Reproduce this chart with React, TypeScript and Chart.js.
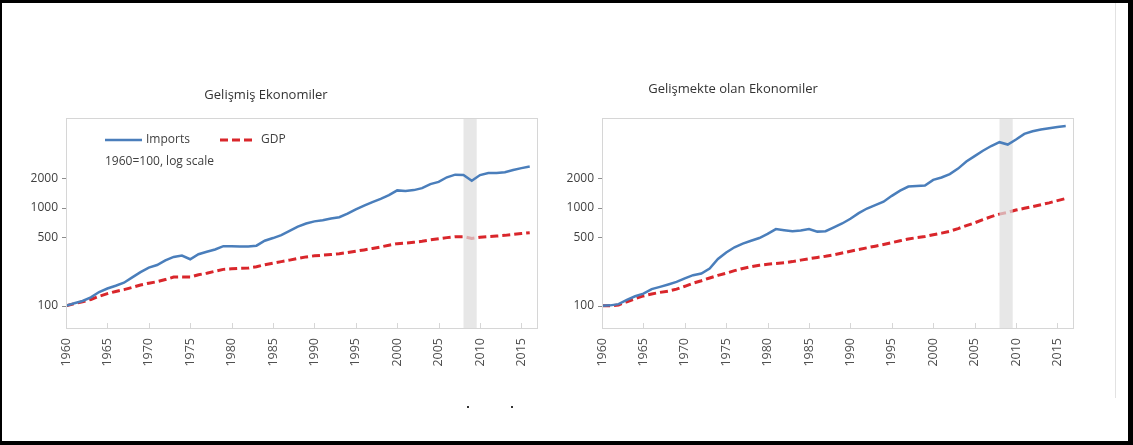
import React, { useEffect, useRef } from "react";
import { Chart, registerables } from "chart.js";

Chart.register(...registerables);

// ---- DATA ----
const years = [
  1960, 1961, 1962, 1963, 1964, 1965, 1966, 1967, 1968, 1969,
  1970, 1971, 1972, 1973, 1974, 1975, 1976, 1977, 1978, 1979,
  1980, 1981, 1982, 1983, 1984, 1985, 1986, 1987, 1988, 1989,
  1990, 1991, 1992, 1993, 1994, 1995, 1996, 1997, 1998, 1999,
  2000, 2001, 2002, 2003, 2004, 2005, 2006, 2007, 2008, 2009,
  2010, 2011, 2012, 2013, 2014, 2015, 2016,
];

const advancedImports = [
  100, 106, 112, 122, 138, 150, 160, 172, 195, 220,
  245, 260, 290, 315, 325, 298, 335, 355, 375, 405,
  405, 402, 403, 410, 460, 490, 525, 580, 640, 690,
  725, 745, 775, 800, 870, 960, 1050, 1140, 1230, 1340,
  1500, 1480, 1510, 1580, 1740, 1830, 2040, 2170, 2150, 1880,
  2150, 2260, 2250, 2300, 2420, 2530, 2630,
];

const advancedGDP = [
  100, 105, 110, 116, 125, 133, 140, 146, 154, 163,
  170, 176, 185, 196, 197, 196, 207, 215, 225, 235,
  238, 241, 242, 250, 262, 272, 282, 292, 304, 315,
  323, 328, 333, 339, 349, 360, 371, 384, 398, 414,
  430, 436, 444, 454, 470, 482, 495, 505, 506, 486,
  500, 508, 514, 522, 533, 545, 555,
];

const developingImports = [
  100, 101, 104, 115, 125, 133, 148, 156, 165, 175,
  190, 205, 213, 240, 300, 350, 395, 430, 460, 490,
  540, 605, 590, 575, 585, 605, 570, 575, 630, 690,
  770, 880, 980, 1060, 1150, 1320, 1490, 1640, 1660, 1680,
  1920, 2030, 2200, 2500, 2950, 3350, 3800, 4250, 4650, 4400,
  4950, 5650, 6000, 6250, 6450, 6650, 6800,
];

const developingGDP = [
  100, 100, 102, 110, 118, 126, 132, 137, 141, 148,
  158, 170, 180, 192, 204, 215, 228, 240, 250, 259,
  265, 270, 274, 282, 292, 302, 311, 320, 331, 345,
  360, 375, 390, 405, 422, 440, 460, 480, 495, 508,
  530, 550, 575, 612, 655, 700, 755, 810, 860, 895,
  945, 985, 1025, 1070, 1120, 1180, 1240,
];

const yTickValues = [100, 500, 1000, 2000];
const xTickYears = [1960, 1965, 1970, 1975, 1980, 1985, 1990, 1995, 2000, 2005, 2010, 2015];
const recessionBand = [2008, 2009.6];

const titleLeft = "Gelişmiş Ekonomiler";
const titleRight = "Gelişmekte olan Ekonomiler";
const legendImports = "Imports";
const legendGDP = "GDP";
const legendNote = "1960=100, log scale";

// ---- STYLE ----
const FONT = "'Open Sans', 'DejaVu Sans', sans-serif";
const BLUE = "#4a7ebb";
const RED = "#d9262b";
const TEXT = "#404040";
const BOX = "#d6d6d6";
const CW = 530;
const CH = 445;

type PanelProps = {
  left: number;
  title: string;
  titleX: number;
  titleY: number;
  imports: number[];
  gdp: number[];
  legend: boolean;
};

function Panel(props: PanelProps) {
  const ref = useRef<HTMLCanvasElement | null>(null);

  useEffect(() => {
    const canvas = ref.current;
    if (!canvas) return;

    const plugin = {
      id: "panelDecor",
      afterDatasetDraw(chart: any, args: any) {
        if (args.index !== 1) return;
        const { ctx, chartArea, scales } = chart;
        const x0 = scales.x.getPixelForValue(recessionBand[0]);
        const x1 = scales.x.getPixelForValue(recessionBand[1]);
        ctx.save();
        ctx.fillStyle = "rgba(222,222,222,0.72)";
        ctx.fillRect(x0, chartArea.top + 1, x1 - x0, chartArea.bottom - chartArea.top - 1);
        ctx.restore();
      },
      afterDraw(chart: any) {
        const { ctx, chartArea, scales } = chart;
        const { left, top, right, bottom } = chartArea;
        ctx.save();
        // plot box
        ctx.strokeStyle = BOX;
        ctx.lineWidth = 1;
        ctx.strokeRect(left + 0.5, top + 0.5, right - left - 1, bottom - top - 1);
        // y tick marks (outside)
        ctx.strokeStyle = "#8c8c8c";
        yTickValues.forEach((v) => {
          const y = Math.round(scales.y.getPixelForValue(v)) + 0.5;
          ctx.beginPath();
          ctx.moveTo(left - 4, y);
          ctx.lineTo(left, y);
          ctx.stroke();
        });
        // x tick marks (inside)
        ctx.strokeStyle = BOX;
        xTickYears.forEach((yr) => {
          const x = Math.round(scales.x.getPixelForValue(yr)) + 0.5;
          ctx.beginPath();
          ctx.moveTo(x, bottom - 1);
          ctx.lineTo(x, bottom - 6);
          ctx.stroke();
        });
        // title
        ctx.fillStyle = "#333333";
        ctx.font = `13px ${FONT}`;
        ctx.textAlign = "center";
        ctx.textBaseline = "middle";
        ctx.fillText(props.title, props.titleX, props.titleY);
        // legend
        if (props.legend) {
          ctx.font = `12px ${FONT}`;
          ctx.textAlign = "left";
          ctx.fillStyle = TEXT;
          ctx.lineWidth = 2.5;
          ctx.strokeStyle = BLUE;
          ctx.beginPath();
          ctx.moveTo(75, 140);
          ctx.lineTo(112, 140);
          ctx.stroke();
          ctx.fillText(legendImports, 116, 140);
          ctx.lineWidth = 3;
          ctx.strokeStyle = RED;
          ctx.setLineDash([8, 4]);
          ctx.beginPath();
          ctx.moveTo(190, 140);
          ctx.lineTo(224, 140);
          ctx.stroke();
          ctx.setLineDash([]);
          ctx.fillText(legendGDP, 231, 140);
          ctx.fillText(legendNote, 75, 162);
        }
        ctx.restore();
      },
    };

    const chart = new Chart(canvas, {
      type: "line",
      data: {
        datasets: [
          {
            label: legendImports,
            data: years.map((yr, i) => ({ x: yr, y: props.imports[i] })),
            borderColor: BLUE,
            borderWidth: 2.5,
            pointRadius: 0,
            tension: 0,
            fill: false,
          },
          {
            label: legendGDP,
            data: years.map((yr, i) => ({ x: yr, y: props.gdp[i] })),
            borderColor: RED,
            borderWidth: 3,
            borderDash: [8, 4],
            pointRadius: 0,
            tension: 0,
            fill: false,
          },
        ],
      },
      options: {
        responsive: false,
        animation: false,
        devicePixelRatio: 1,
        layout: { padding: { left: 0, right: 22, top: 118, bottom: 56 } },
        plugins: {
          legend: { display: false },
          tooltip: { enabled: false },
          title: { display: false },
        },
        scales: {
          x: {
            type: "linear",
            min: 1960,
            max: 2017,
            grid: { display: false, drawTicks: false },
            border: { display: false },
            afterBuildTicks: (scale: any) => {
              scale.ticks = xTickYears.map((v) => ({ value: v }));
            },
            afterFit: (scale: any) => {
              scale.height = 60;
            },
            ticks: {
              autoSkip: false,
              minRotation: 90,
              maxRotation: 90,
              padding: 9,
              color: "#505050",
              font: { family: FONT, size: 12.5 },
              callback: (v: any) => String(v),
            },
          },
          y: {
            type: "logarithmic",
            min: 58,
            max: 8200,
            grid: { display: false, drawTicks: false },
            border: { display: false },
            afterBuildTicks: (scale: any) => {
              scale.ticks = yTickValues.map((v) => ({ value: v }));
            },
            afterFit: (scale: any) => {
              scale.width = 36;
            },
            ticks: {
              autoSkip: false,
              padding: 8,
              color: TEXT,
              font: { family: FONT, size: 12 },
              callback: (v: any) => String(v),
            },
          },
        },
      },
      plugins: [plugin],
    } as any);

    return () => chart.destroy();
  }, []);

  return (
    <canvas
      ref={ref}
      width={CW}
      height={CH}
      style={{ position: "absolute", left: props.left, top: 0, width: CW, height: CH }}
    />
  );
}

export default function App() {
  return (
    <div
      style={{
        position: "fixed",
        left: 0,
        top: 0,
        width: 1133,
        height: 445,
        background: "#ffffff",
        overflow: "hidden",
      }}
    >
      <Panel
        left={30}
        title={titleLeft}
        titleX={236}
        titleY={95}
        imports={advancedImports}
        gdp={advancedGDP}
        legend={true}
      />
      <Panel
        left={566}
        title={titleRight}
        titleX={167}
        titleY={89}
        imports={developingImports}
        gdp={developingGDP}
        legend={false}
      />
      {/* thin grey line near right edge */}
      <div style={{ position: "absolute", left: 1115, top: 0, width: 1, height: 398, background: "#e2e2e2" }} />
      {/* stray dots */}
      <div style={{ position: "absolute", left: 467, top: 406, width: 2, height: 2, background: "#333" }} />
      <div style={{ position: "absolute", left: 511, top: 406, width: 2, height: 2, background: "#333" }} />
      {/* outer black frame */}
      <div style={{ position: "absolute", left: 0, top: 0, width: 1133, height: 3, background: "#000" }} />
      <div style={{ position: "absolute", left: 0, top: 0, width: 2, height: 445, background: "#000" }} />
      <div style={{ position: "absolute", left: 1128, top: 0, width: 5, height: 445, background: "#000" }} />
      <div style={{ position: "absolute", left: 0, top: 441, width: 1133, height: 4, background: "#000" }} />
    </div>
  );
}
